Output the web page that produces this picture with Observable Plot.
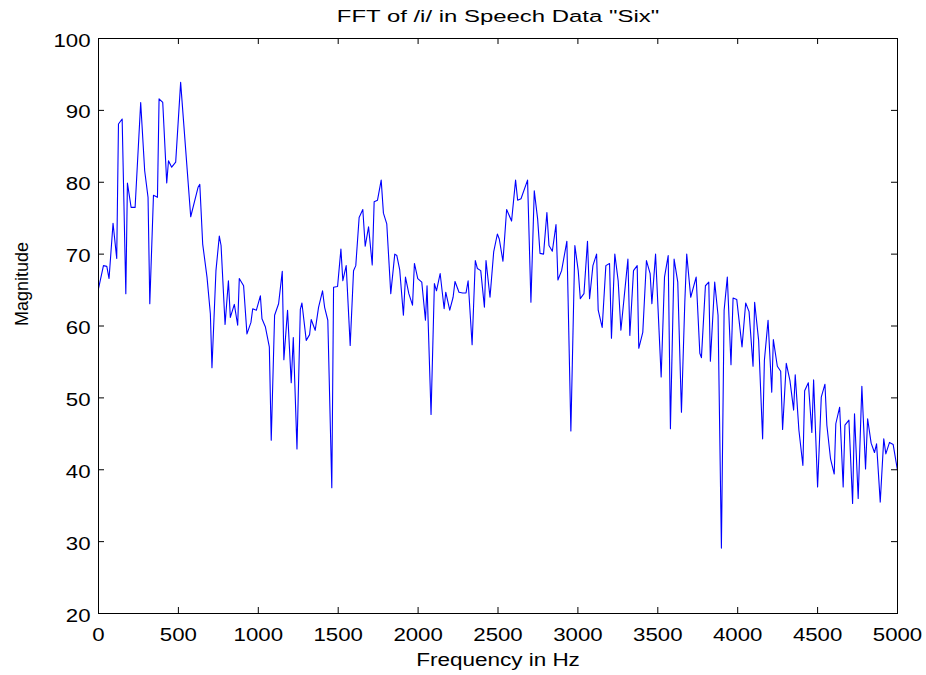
<!DOCTYPE html>
<html>
<head>
<meta charset="utf-8">
<script src="https://cdn.jsdelivr.net/npm/d3@7"></script>
<script src="https://cdn.jsdelivr.net/npm/@observablehq/plot@0.6"></script>
<style>
  html, body { margin: 0; padding: 0; background: #ffffff; }
  #chart svg { display: block; }
</style>
</head>
<body>
<div id="chart"></div>
<script>
const titleText = 'FFT of /i/ in Speech Data "Six"';
const xLabel = "Frequency in Hz";
const yLabel = "Magnitude";
const xTicks = [0, 500, 1000, 1500, 2000, 2500, 3000, 3500, 4000, 4500, 5000];
const yTicks = [20, 30, 40, 50, 60, 70, 80, 90, 100];

const freq = [
  0, 31, 52, 66, 91, 114, 125, 148, 171, 181, 204, 229, 264, 289, 310, 321, 344, 369, 379, 402,
  427, 438, 458, 483, 514, 546, 577, 623, 634, 652, 679, 700, 710, 735, 756, 767, 792, 813, 825, 850,
  871, 881, 908, 929, 954, 965, 988, 1013, 1023, 1044, 1069, 1081, 1102, 1127, 1150, 1160, 1183, 1206, 1219, 1242,
  1263, 1273, 1300, 1321, 1331, 1356, 1377, 1402, 1415, 1435, 1460, 1471, 1496, 1517, 1529, 1550, 1575, 1596, 1610, 1631,
  1654, 1669, 1690, 1713, 1725, 1746, 1769, 1783, 1804, 1829, 1854, 1867, 1885, 1908, 1921, 1942, 1965, 1977, 1998, 2023,
  2046, 2056, 2081, 2102, 2115, 2138, 2163, 2173, 2198, 2219, 2231, 2256, 2279, 2300, 2313, 2338, 2358, 2371, 2392, 2415,
  2425, 2450, 2473, 2496, 2508, 2531, 2554, 2585, 2610, 2623, 2644, 2685, 2706, 2727, 2748, 2763, 2785, 2806, 2819, 2840,
  2863, 2875, 2898, 2931, 2956, 2981, 3002, 3015, 3038, 3060, 3073, 3094, 3117, 3127, 3152, 3175, 3198, 3210, 3231, 3252,
  3269, 3313, 3325, 3348, 3371, 3381, 3406, 3429, 3452, 3463, 3486, 3521, 3542, 3565, 3579, 3602, 3625, 3648, 3669, 3681,
  3706, 3740, 3763, 3773, 3798, 3819, 3829, 3856, 3877, 3898, 3915, 3935, 3958, 3971, 3994, 4027, 4050, 4071, 4096, 4106,
  4131, 4156, 4167, 4190, 4213, 4223, 4248, 4269, 4281, 4304, 4327, 4350, 4360, 4383, 4408, 4419, 4442, 4464, 4475, 4500,
  4523, 4546, 4558, 4581, 4604, 4614, 4638, 4660, 4671, 4696, 4719, 4731, 4754, 4777, 4800, 4813, 4835, 4856, 4869, 4892,
  4914, 4927, 4950, 4973, 5000
];
const magnitude = [
  65.2, 68.4, 68.3, 66.6, 74.3, 69.4, 88.1, 88.8, 64.5, 79.9, 76.5, 76.5, 91.1, 81.6, 77.9, 63.1, 78.2, 77.9, 91.6, 91.1,
  79.9, 83.0, 82.1, 82.8, 93.9, 84.4, 75.2, 79.3, 79.7, 71.4, 66.8, 61.7, 54.2, 67.7, 72.5, 71.2, 60.2, 66.3, 61.2, 63.0,
  60.1, 66.6, 65.6, 58.9, 60.5, 62.4, 62.2, 64.2, 61.0, 59.9, 57.1, 44.1, 61.5, 63.1, 67.6, 55.3, 62.2, 52.1, 58.4, 42.9,
  62.3, 63.2, 58.0, 58.8, 60.9, 59.4, 62.6, 64.9, 62.6, 60.8, 37.5, 65.4, 65.5, 70.7, 66.3, 68.4, 57.3, 67.7, 68.4, 75.1,
  76.2, 71.1, 73.8, 68.5, 77.3, 77.5, 80.3, 75.7, 74.2, 64.5, 70.0, 69.8, 67.8, 61.5, 66.8, 64.5, 62.9, 68.7, 66.6, 66.1,
  60.8, 65.6, 47.7, 65.9, 64.9, 67.3, 62.4, 64.7, 62.2, 64.0, 66.2, 64.7, 64.6, 64.6, 66.3, 57.4, 69.1, 68.0, 67.7, 62.6,
  69.1, 64.0, 70.3, 72.8, 72.1, 69.0, 76.2, 74.6, 80.3, 77.5, 77.7, 80.3, 63.3, 78.8, 74.9, 70.1, 70.0, 75.8, 71.2, 70.4,
  74.1, 66.4, 67.7, 71.8, 45.4, 71.2, 67.7, 63.8, 64.5, 71.8, 63.8, 68.4, 70.0, 62.2, 59.8, 68.4, 68.7, 58.3, 70.0, 66.3,
  59.4, 69.3, 58.7, 67.7, 68.4, 56.9, 59.1, 69.1, 67.3, 63.1, 70.0, 52.9, 66.8, 69.8, 45.7, 69.3, 66.1, 48.0, 63.3, 70.0,
  64.0, 66.8, 56.2, 55.6, 65.6, 66.1, 55.1, 66.1, 61.5, 29.1, 62.2, 66.8, 54.6, 63.9, 63.7, 57.1, 63.2, 62.0, 54.4, 63.3,
  58.0, 44.3, 55.2, 60.8, 50.8, 58.1, 54.4, 53.7, 45.6, 54.8, 52.4, 48.3, 53.2, 45.5, 40.6, 51.0, 52.1, 45.2, 52.5, 37.6,
  50.1, 51.9, 46.2, 41.5, 39.4, 46.4, 48.7, 37.6, 46.2, 46.9, 35.3, 47.8, 36.0, 51.6, 40.1, 47.1, 43.7, 42.4, 43.6, 35.5,
  44.3, 42.2, 43.8, 43.5, 39.9
];

const data = freq.map((f, i) => ({f, m: magnitude[i]}));

const W = 926, H = 675;
const mL = 98, mR = 29, mT = 38, mB = 62;
const frameW = W - mL - mR, frameH = H - mT - mB;
const tickLen = 6;

const chart = Plot.plot({
  width: W,
  height: H,
  marginLeft: mL,
  marginRight: mR,
  marginTop: mT,
  marginBottom: mB,
  x: {domain: [0, 5000]},
  y: {domain: [20, 100]},
  style: {
    fontFamily: "'Liberation Sans', Arial, Helvetica, sans-serif",
    background: "#ffffff",
    color: "#000000",
    overflow: "visible"
  },
  marks: [
    Plot.line(data, {x: "f", y: "m", stroke: "#0000ff", strokeWidth: 1.1}),
    Plot.frame({stroke: "#000000", strokeWidth: 1}),
    Plot.tickX(xTicks, {x: d => d, insetTop: frameH - tickLen, stroke: "#000000"}),
    Plot.tickX(xTicks, {x: d => d, insetBottom: frameH - tickLen, stroke: "#000000"}),
    Plot.tickY(yTicks, {y: d => d, insetRight: frameW - tickLen, stroke: "#000000"}),
    Plot.tickY(yTicks, {y: d => d, insetLeft: frameW - tickLen, stroke: "#000000"}),
    Plot.axisX(xTicks, {tickSize: 0, tickPadding: 15, fontSize: 17.5, label: null, tickFormat: d => String(d)}),
    Plot.axisY(yTicks, {tickSize: 0, tickPadding: 8, fontSize: 17.5, label: null, dy: 2.5, tickFormat: d => String(d)}),
    Plot.text([titleText], {frameAnchor: "top", dy: -28, fontSize: 16.5, fill: "#000000"}),
    Plot.text([xLabel], {frameAnchor: "bottom", dy: 52, fontSize: 18, fill: "#000000"}),
    Plot.text([yLabel], {frameAnchor: "left", dx: -76, rotate: -90, fontSize: 18, fill: "#000000"})
  ]
});

// Horizontally stretch the glyphs, as in the reference rendering
function stretch(el, s) {
  const t = el.getAttribute("transform") || "";
  el.setAttribute("transform", t + ` scale(${s},1)`);
}
d3.select(chart).selectAll("text").each(function () {
  const txt = this.textContent;
  if (txt === titleText) stretch(this, 1.45);
  else if (txt === xLabel) stretch(this, 1.25);
  else if (txt === yLabel) { /* rotated, left as is */ }
  else stretch(this, 1.27);
});

document.getElementById("chart").appendChild(chart);
</script>
</body>
</html>
